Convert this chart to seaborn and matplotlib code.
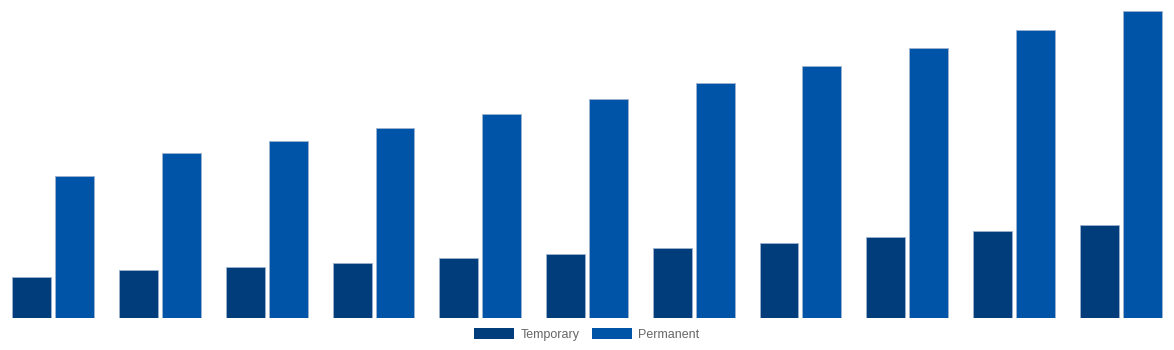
import matplotlib
matplotlib.use("Agg")
import matplotlib.pyplot as plt
import seaborn as sns
import pandas as pd

groups = [str(i) for i in range(1, 12)]
temporary = [41, 48, 51, 55, 60, 64, 70, 75, 81, 87, 93]
permanent = [142, 165, 177, 190, 204, 219, 235, 252, 270, 288, 307]
series = ["Temporary", "Permanent"]
colors = ["#023d7b", "#0054a7"]

df = pd.DataFrame({
    "group": groups * 2,
    "value": temporary + permanent,
    "series": ["Temporary"] * len(groups) + ["Permanent"] * len(groups),
})

sns.set_theme(style="white")
plt.rcParams['font.family'] = ['Arial', 'Liberation Sans', 'DejaVu Sans']

fig = plt.figure(figsize=(11.74, 3.5), dpi=100)
ax = fig.add_axes([0.0, 32 / 350, 1.0, 318 / 350])
sns.barplot(data=df, x="group", y="value", hue="series", hue_order=series,
            palette=colors, saturation=1, width=0.804, gap=0.093, ax=ax,
            edgecolor="#9db3cf", linewidth=0.6, legend=True)
ax.set_xlim(-0.5, len(groups) - 0.5)
ax.set_ylim(0, 318)
ax.set_axis_off()
h, l = ax.get_legend_handles_labels()
ax.get_legend().remove()
for p in h:
    p.set_edgecolor("none")
fig.legend(h, l, loc="lower center", bbox_to_anchor=(0.5, 0.0), ncol=2,
           frameon=False, fontsize=9, handlelength=3.2, handleheight=1.0,
           columnspacing=1.0, handletextpad=0.5, labelcolor="#666666",
           borderaxespad=0.35)
fig.savefig("out.png", dpi=100)
